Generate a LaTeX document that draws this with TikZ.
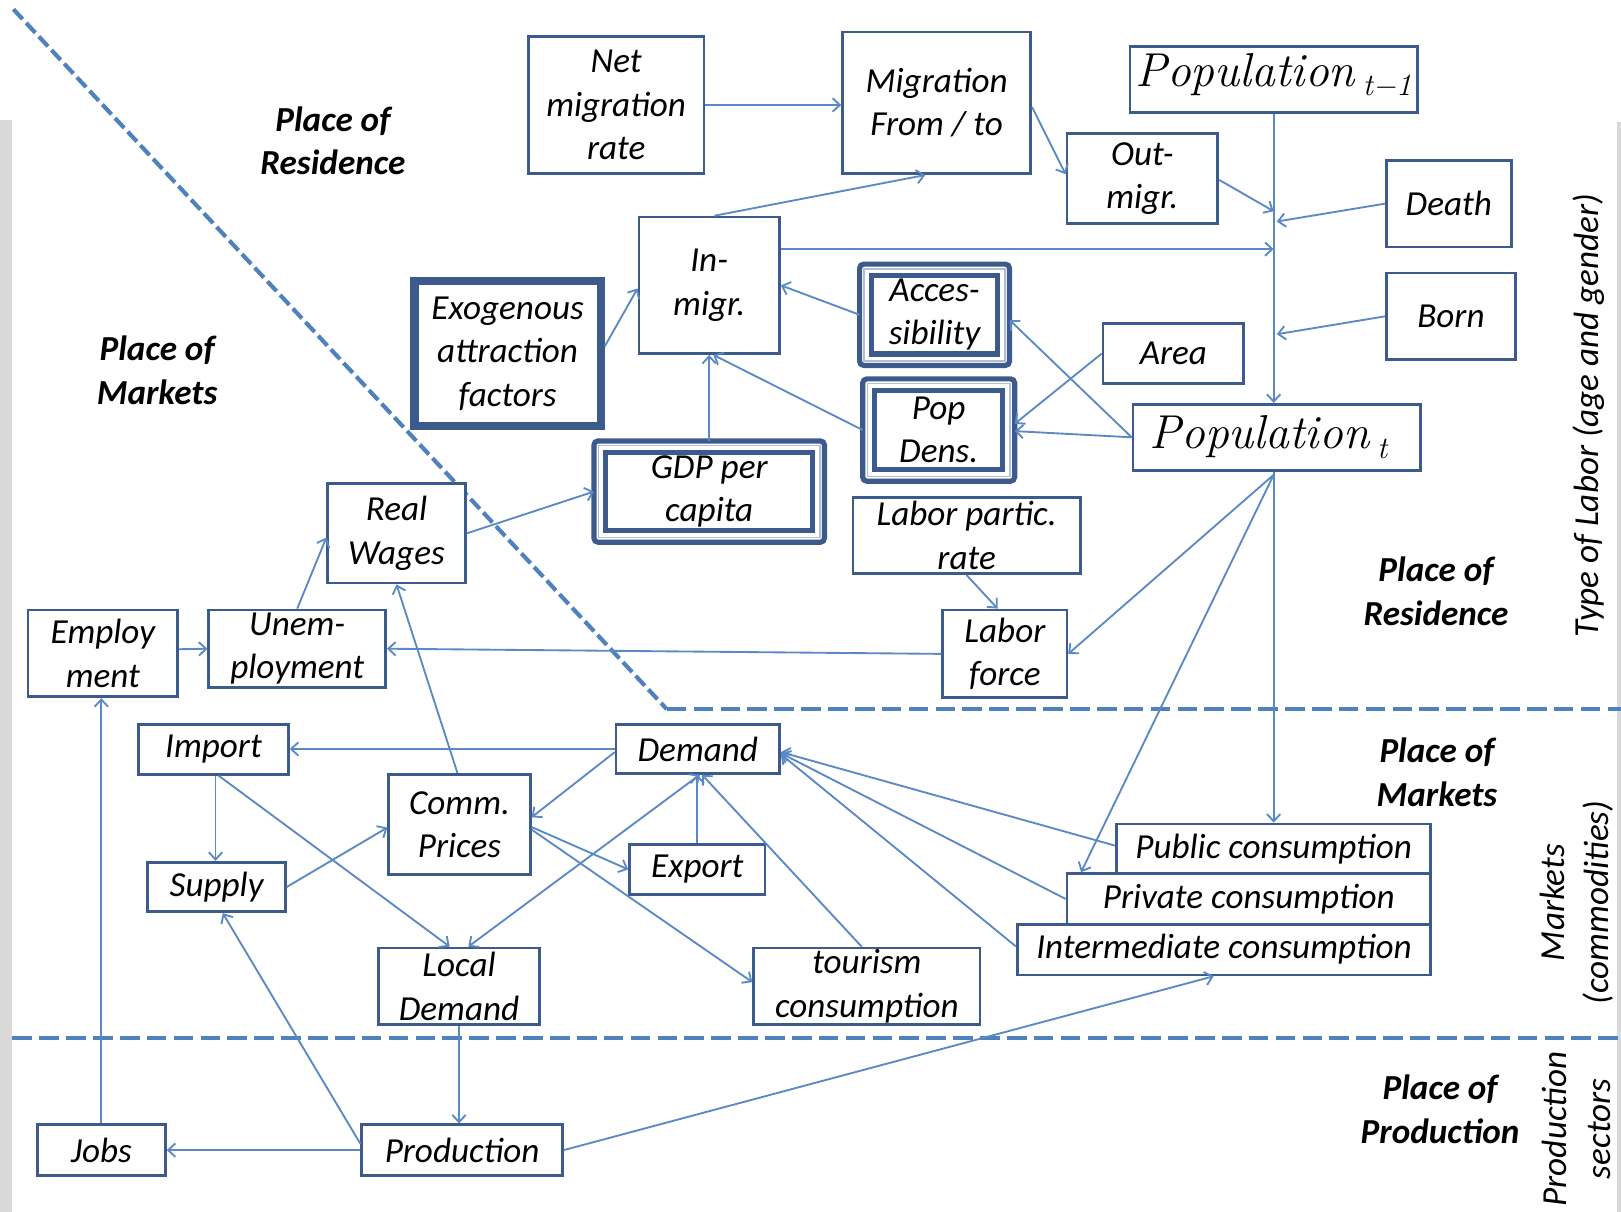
\documentclass[tikz,border=0pt]{standalone}
\usepackage{fontspec}
\setmainfont{Carlito}
\newfontfamily\popfont{Latin Modern Roman}
\usetikzlibrary{arrows.meta}

\definecolor{boxcol}{HTML}{3C5A8C}
\definecolor{arrcol}{HTML}{5B89C6}
\definecolor{divcol}{HTML}{4F81BD}
\definecolor{innerline}{HTML}{AFC0D6}
\definecolor{stripcol}{HTML}{D9D9D9}

\tikzset{
  txt/.style={font=\fontsize{34}{42}\selectfont\itshape, align=center, inner sep=0pt, text=black},
  lbl/.style={font=\fontsize{34}{42}\selectfont\bfseries\itshape, align=center, inner sep=0pt, text=black},
  boxst/.style={txt, draw=boxcol, line width=2.6pt, fill=white},
  thickst/.style={txt, draw=boxcol, line width=8pt, fill=white},
  dblst/.style={draw=boxcol, line width=5pt, rounded corners=4pt, fill=white, inner sep=0pt, outer sep=0pt},
  poptxt/.style={font=\fontsize{46}{50}\selectfont\popfont\itshape, inner sep=0pt, anchor=base},
  arr/.style={draw=arrcol, line width=1.8pt, -{Straight Barb[length=7pt,width=13pt]}},
  arrboth/.style={draw=arrcol, line width=1.8pt, {Straight Barb[length=7pt,width=13pt]}-{Straight Barb[length=7pt,width=13pt]}},
  divider/.style={draw=divcol, line width=4pt},
}

% lowered index after the population label
\newcommand\popidx[1]{\,\raisebox{-9pt}{\fontsize{30}{30}\selectfont #1}}

% style, name, x1, y1, x2, y2, text  (box given by its edges)
\newcommand\mkbox[7]{%
  \node[#1, minimum width={(#5-#3)*1pt}, minimum height={(#6-#4)*1pt}] (#2)
    at ({(#3+#5)/2},{(#4+#6)/2}) {#7};}

% name, x1, y1, x2, y2 (outer edges), text : framed box inside a rounded frame
\newcommand\mkdbl[6]{%
  \node[dblst, minimum width={(#4-#2-5)*1pt}, minimum height={(#5-#3-5)*1pt}] (#1)
    at ({(#2+#4)/2},{(#3+#5)/2}) {};
  \draw[innerline, line width=1.6pt] ([shift={(4.5,4.5)}]#1.north west) rectangle ([shift={(-4.5,-4.5)}]#1.south east);
  \draw[boxcol, line width=5pt] ([shift={(11.5,11)}]#1.north west) rectangle ([shift={(-11.5,-11)}]#1.south east);
  \node[txt] (#1-t) at (#1.center) {#6};}

\begin{document}
\begin{tikzpicture}[x=1pt, y=-1pt]
\useasboundingbox (0,0) rectangle (1568,1172);

% side strips
\fill[stripcol] (0,116) rectangle (12,1172);
\fill[stripcol] (1564,118) rectangle (1568,1172);

% zone borders
\draw[divider, dash pattern=on 13pt off 5pt] (13,9) -- (645,686);
\draw[divider, dash pattern=on 19pt off 7pt] (645,686) -- (1568,686);
\draw[divider, dash pattern=on 19pt off 7pt] (12,1004) -- (1568,1004);

% residence block
\mkbox{boxst}{netm}{511}{35}{681}{168}{Net\\migration\\rate}
\mkbox{boxst}{migft}{815}{31}{997}{168}{Migration\\From / to}
\mkbox{boxst}{popA}{1093}{45}{1371}{109}{}
\mkbox{boxst}{outm}{1032}{129}{1178}{216}{Out-\\migr.}
\mkbox{boxst}{death}{1341}{155}{1462}{239}{Death}
\mkbox{boxst}{inm}{618}{210}{754}{342}{In-\\migr.}
\mkbox{boxst}{born}{1341}{264}{1466}{348}{Born}
\mkbox{thickst}{exo}{401}{272}{581}{412}{Exogenous\\attraction\\factors}
\mkdbl{acc}{829}{253}{979}{356}{Acces-\\sibility}
\mkbox{boxst}{area}{1067}{313}{1203}{371}{Area}
\mkdbl{pden}{832}{364}{984}{468}{Pop\\Dens.}
\mkbox{boxst}{popB}{1096}{391}{1374}{455}{}
\mkdbl{gdp}{572}{424}{800}{527}{GDP per\\capita}
\mkbox{boxst}{rw}{317}{468}{450}{564}{Real\\Wages}
\mkbox{boxst}{lpr}{825}{481}{1045}{555}{Labor partic.\\rate}
\mkbox{boxst}{emp}{27}{590}{172}{674}{Employ\\ment}
\mkbox{boxst}{unem}{202}{590}{373}{665}{Unem-\\ployment}
\mkbox{boxst}{lf}{912}{590}{1032}{675}{Labor\\force}

% market block
\mkbox{boxst}{imp}{134}{701}{279}{749}{Import}
\mkbox{boxst}{dem}{596}{701}{754}{748}{Demand}
\mkbox{boxst}{comm}{376}{749}{513}{846}{Comm.\\Prices}
\mkbox{boxst}{sup}{143}{834}{276}{882}{Supply}
\mkbox{boxst}{exp}{609}{817}{740}{865}{Export}
\mkbox{boxst}{pub}{1080}{797}{1384}{845}{Public consumption}
\mkbox{boxst}{pri}{1032}{845}{1384}{894}{Private consumption}
\mkbox{boxst}{inter}{984}{894}{1384}{943}{Intermediate consumption}
\mkbox{boxst}{ld}{366}{917}{522}{991}{Local\\Demand}
\mkbox{boxst}{tour}{729}{917}{948}{991}{tourism\\consumption}

% production block
\mkbox{boxst}{jobs}{36}{1088}{160}{1137}{Jobs}
\mkbox{boxst}{prod}{350}{1088}{544}{1137}{Production}

% population labels
\node[poptxt] (popA-t) at ([yshift=27pt]popA.south) {Population\popidx{t−1}};
\node[poptxt] (popB-t) at ([xshift=-8pt,yshift=22pt]popB.south) {Population\popidx{t}};

% zone labels
\node[lbl] (resA) at (322,136) {Place of\\Residence};
\node[lbl] (mktA) at (152,358) {Place of\\Markets};
\node[lbl] (resB) at (1389,572) {Place of\\Residence};
\node[lbl] (mktB) at (1390,747) {Place of\\Markets};
\node[lbl] (prodB) at (1393,1073) {Place of\\Production};
\node[txt, rotate=90] (typ) at (1537,402) {Type of Labor (age and gender)};
\node[txt, rotate=90] (mkc) at (1525,873) {Markets\\(commodities)};
\node[txt, rotate=90] (prs) at (1525,1092) {Production\\sectors};

% migration and population accounting
\draw[arr] (netm.east) -- (netm.east -| migft.west);
\draw[arr] ([yshift=-4pt]migft.east) -- ([yshift=4pt]outm.west);
\draw[arr] ([xshift=5pt]inm.north) -- ([xshift=-11pt]migft.south);
\draw[arr] (popA.south) -- (popA.south |- popB.north);
\draw[arr] ([yshift=-1.5pt]outm.east) -- ([yshift=-94pt]popA.south);
\draw[arr] (death.west) -- ([xshift=3pt,yshift=-104pt]popA.south);
\coordinate (g1) at ([yshift=35pt]inm.east);
\draw[arr] (g1) -- (g1 -| popA.south);
\draw[arr] (born.west) -- ([xshift=3pt,yshift=-213pt]popA.south);

% attraction of in-migration
\draw[arr] ([yshift=7pt]exo.east) -- ([yshift=-3pt]inm.west);
\draw[arr] (acc.west) -- (inm.east);
\draw[arr] (pden.west) -- ([xshift=4pt]inm.south);
\draw[arr] (gdp.north) -- (gdp.north |- inm.south);
\draw[arr] (area.west) -- ([yshift=6pt]pden.east);
\draw[arr] (popB.west) -- ([yshift=-5pt]acc.east);
\draw[arr] (popB.west) -- ([yshift=-1pt]pden.east);
\draw[arr] (rw.east) -- (gdp.west);

% population to labour and consumption
\coordinate (fan) at ([xshift=-3pt,yshift=-3pt]popB.south);
\draw[arr] (fan) -- (lf.east);
\draw[arr] (fan) -- ([xshift=15pt]pri.north west);
\draw[arr] (popB.south -| fan) -- (fan |- pub.north);
\draw[arr] (lpr.south) -- ([xshift=-7pt]lf.north);
\draw[arr] (lf.west) -- (unem.east);
\draw[arr] ([yshift=4pt]emp.east) -- (unem.west);
\draw[arr] (unem.north) -- ([yshift=-4pt]rw.west);
\draw[arr] ([xshift=-2pt]comm.north) -- (rw.south);

% markets
\draw[arr] (dem.west) -- (dem.west -| imp.east);
\draw[arr] ([yshift=-3pt]dem.west) -- ([yshift=7pt]comm.east);
\draw[arr] ([xshift=2pt]imp.south) -- ([xshift=-1pt]sup.north);
\draw[arr] ([xshift=5pt]imp.south) -- ([xshift=-9pt]ld.north);
\draw[arr] (sup.east) -- ([yshift=-3pt]comm.west);
\draw[arr] ([yshift=-2.5pt]comm.east) -- (exp.west);
\draw[arr] ([yshift=-5pt]comm.east) -- ([yshift=4pt]tour.west);
\draw[arrboth] ([xshift=9pt]ld.north) -- ([xshift=2pt]dem.south);
\draw[arr] (exp.north) -- (exp.north |- dem.south);
\draw[arr] ([xshift=-5pt]tour.north) -- ([xshift=4pt]dem.south);
\draw[arr] ([yshift=3pt]pub.west) -- ([yshift=-3pt]dem.east);
\draw[arr] (pri.west) -- ([yshift=-4pt]dem.east);
\draw[arr] ([yshift=3pt]inter.west) -- ([yshift=-5pt]dem.east);

% production
\draw[arr] (ld.south) -- (ld.south |- prod.north);
\draw[arr] (prod.west) -- (prod.west -| jobs.east);
\draw[arr] (jobs.north) -- (jobs.north |- emp.south);
\draw[arr] ([yshift=6pt]prod.west) -- ([xshift=6pt]sup.south);
\draw[arr] (prod.east) -- ([xshift=-10pt]inter.south);
\end{tikzpicture}
\end{document}
